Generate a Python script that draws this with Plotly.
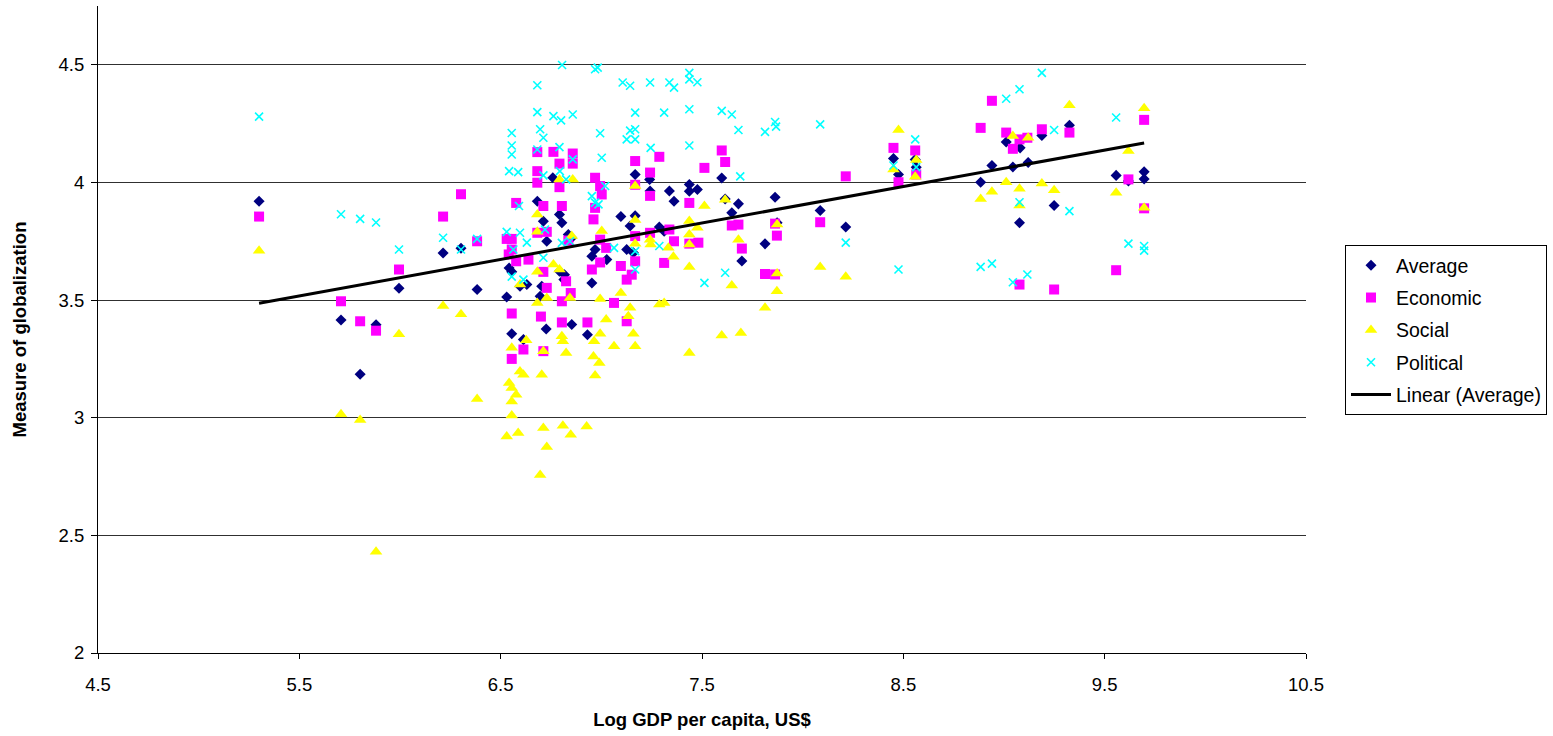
import plotly.graph_objects as go

# ---------------- data ----------------
avg_x = [5.300, 5.707, 5.802, 5.881, 5.995, 6.214, 6.303, 6.383,
         6.759, 6.682, 6.792, 6.804, 6.712, 6.729, 6.836, 6.853, 6.542, 6.555,
         6.792, 6.817, 6.596, 6.630, 6.704, 6.530, 6.696, 6.814, 6.853, 6.726,
         6.931, 6.555, 6.613,
         7.168, 7.240, 7.242, 7.338, 7.361, 7.437, 7.437, 7.477, 7.097, 7.168,
         7.143, 7.288, 7.312, 7.126, 7.159, 6.953, 6.969, 7.027, 6.953,
         7.598, 7.615, 7.681, 7.863, 7.648, 8.087, 8.214, 7.813, 7.698, 7.873,
         8.451, 8.476, 8.559, 8.564, 8.884, 8.940, 9.011, 9.044, 9.080, 9.077,
         9.120, 9.188, 9.249, 9.325, 9.557, 9.618, 9.696, 9.696]
avg_y = [3.920, 3.415, 3.185, 3.395, 3.550, 3.700, 3.720, 3.545,
         4.020, 3.920, 3.864, 3.829, 3.835, 3.750, 3.779, 3.765, 3.636, 3.620,
         3.623, 3.608, 3.559, 3.566, 3.559, 3.513, 3.516, 3.587, 3.396, 3.377,
         3.353, 3.357, 3.332,
         4.034, 4.013, 3.964, 3.964, 3.920, 3.991, 3.963, 3.970, 3.855, 3.858,
         3.815, 3.811, 3.793, 3.715, 3.701, 3.686, 3.715, 3.672, 3.573,
         4.019, 3.930, 3.909, 3.937, 3.871, 3.881, 3.811, 3.739, 3.666, 3.829,
         4.102, 4.034, 4.098, 4.065, 4.001, 4.072, 4.172, 4.066, 4.147, 3.829,
         4.085, 4.200, 3.902, 4.243, 4.030, 4.006, 4.045, 4.015]

econ_x = [5.300, 5.707, 5.802, 5.881, 5.995, 6.214, 6.303, 6.383,
          6.682, 6.762, 6.858, 6.858, 6.792, 6.682, 6.682, 6.792, 6.577, 6.712,
          6.804, 6.530, 6.555, 6.682, 6.729, 6.836, 6.555, 6.540, 6.577, 6.638,
          6.712, 6.825, 6.729, 6.848, 6.804, 6.555, 6.700, 6.804, 6.931, 6.613,
          6.712, 6.555,
          7.288, 7.168, 7.512, 6.969, 7.242, 7.168, 6.994, 7.002, 7.242, 7.437,
          6.961, 6.969, 6.994, 7.242, 7.338, 7.361, 7.482, 7.437, 7.168, 7.024,
          6.994, 6.953, 7.168, 7.097, 7.312, 7.151, 7.126, 7.063, 7.126,
          7.598, 7.615, 8.214, 7.648, 7.681, 7.863, 7.872, 8.087, 7.698, 7.813,
          7.863,
          8.451, 8.476, 8.559, 8.564, 8.884, 8.940, 9.011, 9.044, 9.077, 9.077,
          9.116, 9.188, 9.325, 9.249, 9.557, 9.618, 9.696, 9.696]
econ_y = [3.855, 3.495, 3.410, 3.370, 3.630, 3.855, 3.950, 3.750,
          4.129, 4.130, 4.123, 4.080, 4.080, 4.048, 3.999, 3.980, 3.913, 3.900,
          3.900, 3.760, 3.760, 3.786, 3.790, 3.753, 3.715, 3.694, 3.665, 3.672,
          3.620, 3.580, 3.552, 3.530, 3.495, 3.443, 3.430, 3.405, 3.405, 3.290,
          3.283, 3.250,
          4.109, 4.091, 4.062, 4.020, 4.042, 3.990, 3.985, 3.949, 3.943, 3.913,
          3.843, 3.892, 3.757, 3.786, 3.800, 3.750, 3.744, 3.740, 3.772, 3.722,
          3.660, 3.630, 3.665, 3.645, 3.658, 3.608, 3.587, 3.488, 3.410,
          4.136, 4.087, 4.026, 3.817, 3.821, 3.825, 3.774, 3.831, 3.719, 3.611,
          3.609,
          4.147, 4.001, 4.136, 4.034, 4.232, 4.347, 4.212, 4.143, 4.183, 3.566,
          4.190, 4.226, 4.212, 3.545, 3.627, 4.013, 4.266, 3.890]

soc_x = [5.300, 5.707, 5.802, 5.881, 5.995, 6.214, 6.303, 6.383,
         6.792, 6.858, 6.682, 6.682, 6.853, 6.762, 6.682, 6.792, 6.596, 6.729,
         6.682, 6.844, 6.627, 6.804, 6.809, 6.712, 6.825, 6.555, 6.964, 6.961,
         6.596, 6.613, 6.704, 6.969, 6.542, 6.555, 6.577, 6.555, 6.555, 6.530,
         6.587, 6.712, 6.809, 6.848, 6.927, 6.729, 6.696,
         7.168, 7.512, 7.168, 7.002, 7.437, 7.437, 7.477, 7.242, 7.245, 7.168,
         7.437, 7.333, 7.358, 7.437, 7.097, 6.994, 7.143, 7.134, 7.288, 7.312,
         7.024, 6.994, 7.063, 7.168, 7.159, 7.437, 6.990,
         7.615, 7.873, 7.681, 7.873, 7.648, 7.872, 8.087, 8.214, 7.813, 7.598,
         7.693,
         8.476, 8.451, 8.564, 8.559, 8.884, 8.940, 9.011, 9.044, 9.077, 9.077,
         9.120, 9.325, 9.188, 9.249, 9.557, 9.618, 9.696, 9.696]
soc_y = [3.710, 3.015, 2.990, 2.430, 3.355, 3.475, 3.440, 3.080,
         4.013, 4.013, 3.864, 3.790, 3.772, 3.651, 3.620, 3.630, 3.566, 3.509,
         3.488, 3.509, 3.329, 3.346, 3.325, 3.283, 3.275, 3.297, 3.325, 3.260,
         3.197, 3.183, 3.183, 3.179, 3.148, 3.126, 3.098, 3.069, 3.009, 2.920,
         2.935, 2.956, 2.966, 2.928, 2.963, 2.876, 2.757,
         3.985, 3.900, 3.840, 3.794, 3.836, 3.779, 3.807, 3.757, 3.736, 3.740,
         3.736, 3.722, 3.684, 3.641, 3.530, 3.505, 3.467, 3.431, 3.481, 3.488,
         3.417, 3.357, 3.304, 3.304, 3.357, 3.275, 3.233,
         3.927, 3.821, 3.757, 3.613, 3.562, 3.538, 3.641, 3.599, 3.467, 3.349,
         3.360,
         4.223, 4.055, 4.095, 4.024, 3.930, 3.960, 4.001, 4.197, 3.973, 3.902,
         4.190, 4.328, 3.996, 3.967, 3.956, 4.134, 4.315, 3.893]

pol_x = [5.300, 5.707, 5.802, 5.881, 5.995, 6.214, 6.303, 6.383,
         6.805, 6.682, 6.682, 6.762, 6.800, 6.858, 6.555, 6.555, 6.555, 6.696,
         6.712, 6.542, 6.587, 6.682, 6.792, 6.858, 6.794, 6.712, 6.825, 6.591,
         6.530, 6.596, 6.630, 6.720, 6.804, 6.844, 6.563, 6.712, 6.555, 6.613,
         6.969, 6.982, 7.106, 7.143, 7.242, 7.338, 7.361, 7.437, 7.437, 7.477,
         7.168, 7.312, 7.437, 6.994, 7.143, 7.168, 7.126, 7.168, 7.002, 7.245,
         7.437, 7.019, 6.953, 6.969, 6.986, 7.063, 7.288, 7.168, 7.168, 7.512,
         7.598, 7.648, 7.681, 7.813, 7.863, 7.868, 8.087, 7.690, 8.214, 7.615,
         8.559, 8.451, 8.564, 8.476, 8.884, 8.940, 9.011, 9.044, 9.077, 9.077,
         9.116, 9.188, 9.249, 9.325, 9.557, 9.618, 9.696, 9.696]
pol_y = [4.280, 3.865, 3.845, 3.830, 3.715, 3.765, 3.715, 3.760,
         4.499, 4.413, 4.299, 4.282, 4.264, 4.289, 4.210, 4.157, 4.119, 4.226,
         4.190, 4.048, 4.044, 4.140, 4.150, 4.098, 4.048, 4.030, 4.013, 3.900,
         3.790, 3.786, 3.744, 3.800, 3.743, 3.750, 3.715, 3.680, 3.600, 3.587,
         4.481, 4.488, 4.425, 4.411, 4.425, 4.425, 4.403, 4.466, 4.438, 4.426,
         4.297, 4.297, 4.311, 4.209, 4.220, 4.226, 4.183, 4.183, 4.105, 4.147,
         4.157, 3.985, 3.942, 3.914, 3.907, 3.722, 3.730, 3.708, 3.630, 3.573,
         4.304, 4.289, 4.223, 4.215, 4.257, 4.237, 4.247, 4.026, 3.744, 3.616,
         4.183, 4.072, 4.065, 3.630, 3.641, 3.655, 4.356, 3.576, 4.396, 3.916,
         3.609, 4.466, 4.223, 3.878, 4.276, 3.740, 3.730, 3.710]

trend_x = [5.300, 9.696]
trend_y = [3.487, 4.168]

x_ticks = [4.5, 5.5, 6.5, 7.5, 8.5, 9.5, 10.5]
y_ticks = [2, 2.5, 3, 3.5, 4, 4.5]

FONT = "Liberation Sans, Arial, sans-serif"

fig = go.Figure()
fig.add_trace(go.Scatter(x=avg_x, y=avg_y, mode="markers", name="Average",
                         legendgroup="a",
                         marker=dict(symbol="diamond", size=8.5, color="#000080",
                                     line=dict(width=0))))
fig.add_trace(go.Scatter(x=econ_x, y=econ_y, mode="markers", name="Economic",
                         legendgroup="b",
                         marker=dict(symbol="square", size=10, color="#FF00FF",
                                     line=dict(width=0))))
fig.add_trace(go.Scatter(x=soc_x, y=soc_y, mode="markers", name="Social",
                         legendgroup="c",
                         marker=dict(symbol="triangle-up", size=11, color="#FFFF00",
                                     line=dict(width=0))))
fig.add_trace(go.Scatter(x=pol_x, y=pol_y, mode="markers", name="Political",
                         legendgroup="d",
                         marker=dict(symbol="x-thin", size=8, color="#00FFFF",
                                     line=dict(width=1.6, color="#00FFFF"))))
fig.add_trace(go.Scatter(x=trend_x, y=trend_y, mode="lines", name="Linear (Average)",
                         legendgroup="e",
                         line=dict(color="black", width=3)))

fig.update_layout(
    width=1553, height=736,
    margin=dict(l=98, r=247, t=6, b=83),
    paper_bgcolor="white", plot_bgcolor="white",
    font=dict(family=FONT, size=18, color="black"),
    showlegend=True,
    legend=dict(
        x=(1345 - 98) / 1208, xanchor="left",
        y=(653 - 245) / 647, yanchor="top",
        bordercolor="black", borderwidth=1, bgcolor="white",
        font=dict(family=FONT, size=19.5, color="black"),
        tracegroupgap=4,
        itemwidth=40,
    ),
    xaxis=dict(
        range=[4.5, 10.5], tickvals=x_ticks, ticktext=[str(v) for v in x_ticks],
        showgrid=False, zeroline=False, automargin=False,
        showline=True, linecolor="black", linewidth=1,
        ticks="outside", ticklen=5, tickcolor="black",
        tickfont=dict(size=18.5), ticklabelstandoff=10,
        title=dict(text="<b>Log GDP per capita, US$</b>", font=dict(size=18.5), standoff=18),
    ),
    yaxis=dict(
        range=[2, 4.75], tickvals=y_ticks, ticktext=[str(v) for v in y_ticks],
        showgrid=True, gridcolor="#303030", gridwidth=1, zeroline=False, automargin=False,
        showline=True, linecolor="black", linewidth=1,
        ticks="outside", ticklen=6, tickcolor="black",
        tickfont=dict(size=18.5), ticklabelstandoff=3,
        title=dict(text="<b>Measure of globalization</b>", font=dict(size=18.5), standoff=27),
    ),
)

fig.write_html("out.html")
